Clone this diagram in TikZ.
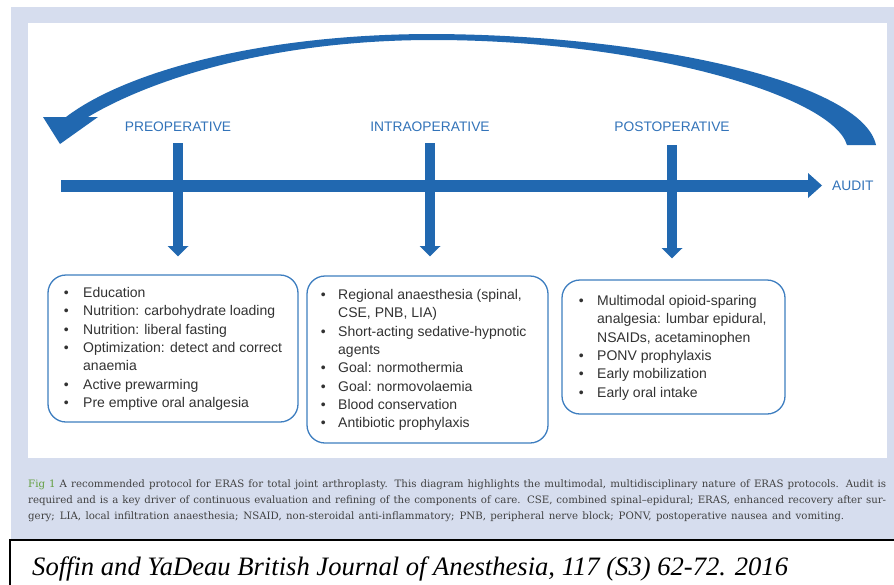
\documentclass[tikz,border=0pt]{standalone}
\usepackage{fontspec}
\setmainfont{Liberation Sans}
\newfontfamily\capfont{DejaVu Serif}
\newfontfamily\citefont{Liberation Serif}
\definecolor{bandgray}{RGB}{214,221,238}
\definecolor{arrowblue}{RGB}{33,104,176}
\definecolor{labelblue}{RGB}{50,115,185}
\definecolor{boxblue}{RGB}{62,126,192}
\definecolor{txtgray}{RGB}{50,50,50}
\definecolor{capgray}{RGB}{65,65,65}
\definecolor{figgreen}{RGB}{98,158,62}
\begin{document}
\begin{tikzpicture}[x=1pt,y=-1pt,
  phase/.style={text=labelblue, font=\fontsize{13.8}{16}\selectfont, inner sep=0pt},
  listbox/.style={draw=boxblue, line width=1.3pt, rounded corners=18pt, minimum width=#1, inner sep=0pt},
  listtext/.style={text=txtgray, font=\fontsize{14}{18.3}\selectfont, inner sep=0pt, anchor=base west},
  stem/.style={draw=arrowblue, line width=9.5pt},
  caption/.style={text=capgray, font=\capfont\fontsize{10.2}{12}\selectfont, inner sep=0pt, anchor=base west}
  ]
\useasboundingbox (0,0) rectangle (894,584);
\fill[white] (0,0) rectangle (894,584);
\fill[bandgray] (11,7) rectangle (894,540);
\fill[white] (28,23) rectangle (887,458);

% feedback loop arrow
\fill[arrowblue] (876,145) .. controls (862,82) and (650,35) .. (433,34)
  .. controls (260,34) and (125,72) .. (66,117) -- (43,117) -- (60,144) -- (98,117) -- (88,117)
  .. controls (150,80) and (270,40) .. (433,40)
  .. controls (640,40) and (832,95) .. (847,145) -- cycle;

% phase labels
\node[phase] (pre) at (178,127) {PREOPERATIVE};
\node[phase] (intra) at (430,127) {INTRAOPERATIVE};
\node[phase] (post) at (672,127) {POSTOPERATIVE};
\node[phase, anchor=west] (audit) at (832,185.5) {AUDIT};

% timeline arrow
\coordinate (tlstart) at (61,185.5);
\coordinate (tlhead) at (808,185.5);
\coordinate (tltip) at ([xshift=-10pt]audit.west);
\draw[arrowblue, line width=12pt] (tlstart) -- (tlhead);
\fill[arrowblue] (tlhead) ++(0,-12.5) -- (tltip) -- ([yshift=-12.5pt]tlhead) -- cycle;

% boxes
\node[listbox=250pt, minimum height=147pt] (box1) at (173,348.5) {};
\node[listbox=241pt, minimum height=167pt] (box2) at (427.5,359.5) {};
\node[listbox=223pt, minimum height=134pt] (box3) at (673.5,347) {};

% vertical arrows
\coordinate (s1top) at (178,143);
\coordinate (s1base) at (178,246);
\coordinate (s1tip) at ([yshift=18pt]box1.north -| s1top);
\draw[stem] (s1top) -- (s1base);
\fill[arrowblue] (s1base) ++(-10.5,0) -- ++(21,0) -- (s1tip) -- cycle;

\coordinate (s2top) at (430,143);
\coordinate (s2base) at (430,246);
\coordinate (s2tip) at ([yshift=19pt]box2.north -| s2top);
\draw[stem] (s2top) -- (s2base);
\fill[arrowblue] (s2base) ++(-10.5,0) -- ++(21,0) -- (s2tip) -- cycle;

\coordinate (s3top) at (672,145);
\coordinate (s3base) at (672,248);
\coordinate (s3tip) at ([yshift=21pt]box3.north -| s3top);
\draw[stem] (s3top) -- (s3base);
\fill[arrowblue] (s3base) ++(-10.5,0) -- ++(21,0) -- (s3tip) -- cycle;

% box texts
\node[listtext] (t1) at (62,297.5) {\begin{tabular}[t]{@{}p{21pt}@{}l@{}}
\makebox[8pt]{\textbullet} & Education\\
\makebox[8pt]{\textbullet} & Nutrition: carbohydrate loading\\
\makebox[8pt]{\textbullet} & Nutrition: liberal fasting\\
\makebox[8pt]{\textbullet} & Optimization: detect and correct\\
 & anaemia\\
\makebox[8pt]{\textbullet} & Active prewarming\\
\makebox[8pt]{\textbullet} & Pre emptive oral analgesia
\end{tabular}};

\node[listtext] (t2) at (319,299.5) {\begin{tabular}[t]{@{}p{19pt}@{}l@{}}
\makebox[8pt]{\textbullet} & Regional anaesthesia (spinal,\\
 & CSE, PNB, LIA)\\
\makebox[8pt]{\textbullet} & Short-acting sedative-hypnotic\\
 & agents\\
\makebox[8pt]{\textbullet} & Goal: normothermia\\
\makebox[8pt]{\textbullet} & Goal: normovolaemia\\
\makebox[8pt]{\textbullet} & Blood conservation\\
\makebox[8pt]{\textbullet} & Antibiotic prophylaxis
\end{tabular}};

\node[listtext] (t3) at (577,305.5) {\begin{tabular}[t]{@{}p{20pt}@{}l@{}}
\makebox[8pt]{\textbullet} & Multimodal opioid-sparing\\
 & analgesia: lumbar epidural,\\
 & NSAIDs, acetaminophen\\
\makebox[8pt]{\textbullet} & PONV prophylaxis\\
\makebox[8pt]{\textbullet} & Early mobilization\\
\makebox[8pt]{\textbullet} & Early oral intake
\end{tabular}};

% caption
\node[caption] (cap1) at (28,487) {\makebox[858pt][s]{\textcolor{figgreen}{Fig 1} A recommended protocol for ERAS for total joint arthroplasty. This diagram highlights the multimodal, multidisciplinary nature of ERAS protocols. Audit is}};
\node[caption] (cap2) at (28,503) {\makebox[858pt][s]{required and is a key driver of continuous evaluation and refining of the components of care. CSE, combined spinal–epidural; ERAS, enhanced recovery after sur-}};
\node[caption] (cap3) at (28,519) {\makebox[816pt][s]{gery; LIA, local infiltration anaesthesia; NSAID, non-steroidal anti-inflammatory; PNB, peripheral nerve block; PONV, postoperative nausea and vomiting.}};

% citation
\fill[white] (10,540) rectangle (900,590);
\draw[black, line width=1.5pt] (10,540) rectangle (900,590);
\node[anchor=base west, inner sep=0pt, font=\citefont\itshape\fontsize{26.6}{29}\selectfont] (cite) at (32,575) {Soffin and YaDeau British Journal of Anesthesia, 117 (S3) 62-72. 2016};
\end{tikzpicture}
\end{document}
